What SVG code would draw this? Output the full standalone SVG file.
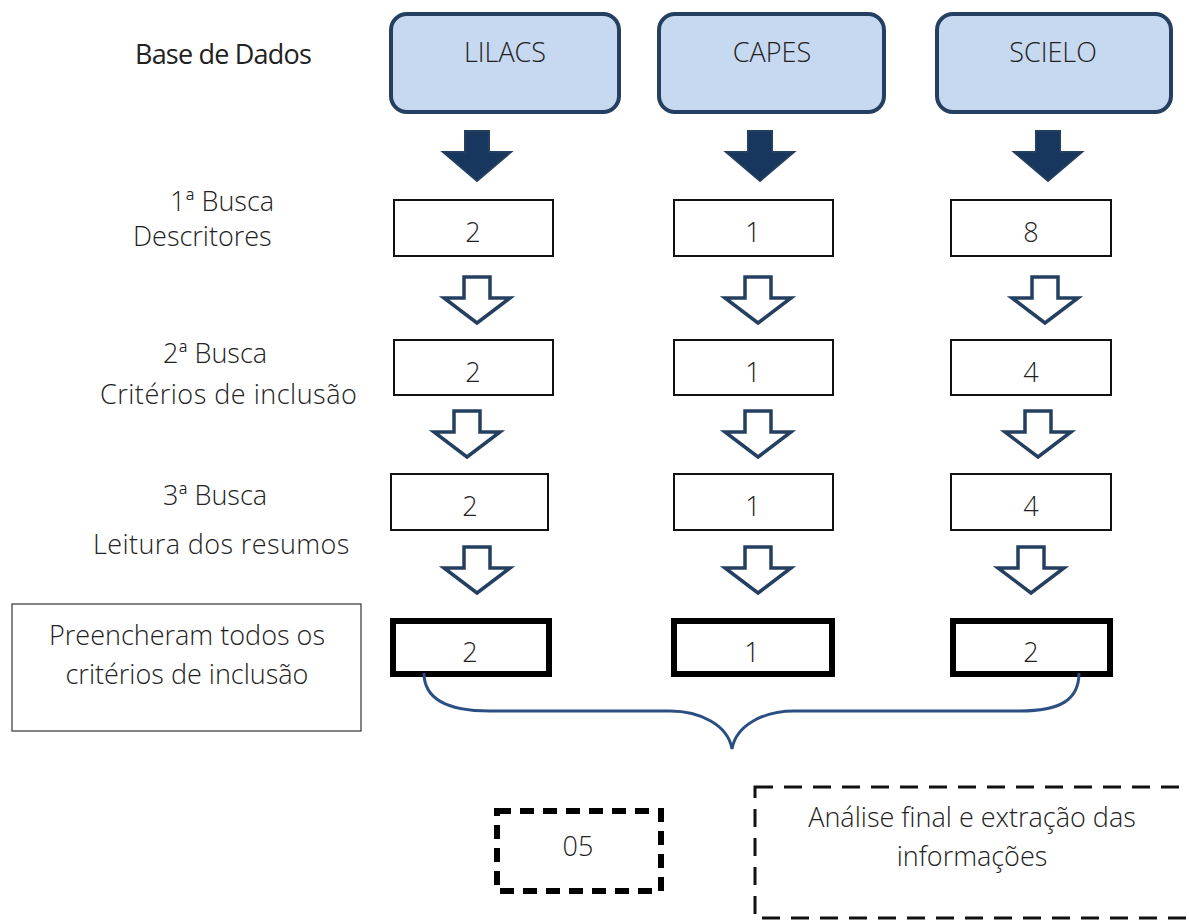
<svg xmlns="http://www.w3.org/2000/svg" xmlns:xlink="http://www.w3.org/1999/xlink" width="1189" height="922" viewBox="0 0 1189 922">
<style>
text{font-family:"Open Sans","Liberation Sans",sans-serif;font-weight:300;fill:#222;}
.lbl{font-size:27px;}
.num{font-size:27px;text-anchor:middle;}
.db{fill:#C6D9F1;stroke:#243F60;stroke-width:4;}
.box{fill:#fff;stroke:#111;stroke-width:2;}
.tbox{fill:#fff;stroke:#000;stroke-width:6;}
.oa{fill:#fff;stroke:#243F60;stroke-width:3.5;stroke-linejoin:miter;}
.fa{fill:#17375E;stroke:#243F60;stroke-width:2;}
</style>
<defs>
<path id="fa" d="M-12,0 H12 V21 H34 L0,50 L-34,21 H-12 Z"/>
<path id="oa" d="M-13,0 H13 V21 H33 L0,46 L-33,21 H-13 Z"/>
</defs>
<g id="labels">
<text class="lbl" x="135" y="64" style="font-weight:400;letter-spacing:-0.8px">Base de Dados</text>
<text class="lbl" x="170" y="211">1ª Busca</text>
<text class="lbl" x="133" y="246">Descritores</text>
<text class="lbl" x="163" y="363">2ª Busca</text>
<text class="lbl" x="100" y="404" style="letter-spacing:0.5px">Critérios de inclusão</text>
<text class="lbl" x="163" y="505">3ª Busca</text>
<text class="lbl" x="93" y="554" style="letter-spacing:0.4px">Leitura dos resumos</text>
</g>
<g id="lilacs"><rect class="db" x="391" y="14" width="228" height="98" rx="16"/><text class="num" x="505" y="62">LILACS</text></g>
<g id="capes"><rect class="db" x="659" y="14" width="225" height="98" rx="16"/><text class="num" x="772" y="62">CAPES</text></g>
<g id="scielo"><rect class="db" x="937" y="14" width="234" height="98" rx="16"/><text class="num" x="1053" y="62">SCIELO</text></g>

<g id="l1"><rect class="box" x="394" y="200" width="159" height="56"/><text class="num" x="473" y="242">2</text></g>
<g id="c1"><rect class="box" x="674" y="200" width="159" height="56"/><text class="num" x="753" y="242">1</text></g>
<g id="s1"><rect class="box" x="951" y="200" width="160" height="56"/><text class="num" x="1031" y="242">8</text></g>

<g id="l2"><rect class="box" x="394" y="340" width="159" height="55"/><text class="num" x="473" y="382">2</text></g>
<g id="c2"><rect class="box" x="674" y="340" width="159" height="55"/><text class="num" x="753" y="382">1</text></g>
<g id="s2"><rect class="box" x="951" y="340" width="160" height="55"/><text class="num" x="1031" y="382">4</text></g>

<g id="l3"><rect class="box" x="391" y="474" width="157" height="56"/><text class="num" x="470" y="516">2</text></g>
<g id="c3"><rect class="box" x="674" y="474" width="159" height="56"/><text class="num" x="753" y="516">1</text></g>
<g id="s3"><rect class="box" x="951" y="474" width="160" height="56"/><text class="num" x="1031" y="516">4</text></g>

<g id="l4"><rect class="tbox" x="393" y="621" width="156" height="53"/><text class="num" x="470" y="662">2</text></g>
<g id="c4"><rect class="tbox" x="674" y="621" width="158" height="53"/><text class="num" x="752" y="662">1</text></g>
<g id="s4"><rect class="tbox" x="953" y="621" width="157" height="53"/><text class="num" x="1031" y="662">2</text></g>

<g id="criteria"><rect x="12" y="604" width="349" height="127" fill="#fff" stroke="#333" stroke-width="1.2"/>
<text class="num" x="187" y="645">Preencheram todos os</text><text class="num" x="187" y="684">critérios de inclusão</text></g>

<g id="total"><rect x="497" y="811" width="164" height="80" fill="#fff" stroke="#000" stroke-width="6" stroke-dasharray="14,9"/><text class="num" x="578" y="856">05</text></g>

<g id="final"><rect x="755" y="787" width="440" height="131" fill="#fff" stroke="#111" stroke-width="3" stroke-dasharray="18,11"/>
<text class="num" x="972" y="827">Análise final e extração das</text><text class="num" x="972" y="866">informações</text></g>

<g id="connectors">
<use xlink:href="#fa" class="fa" x="477" y="131"/>
<use xlink:href="#fa" class="fa" x="760" y="131"/>
<use xlink:href="#fa" class="fa" x="1048" y="131"/>
<use xlink:href="#oa" class="oa" x="477" y="277"/>
<use xlink:href="#oa" class="oa" x="758" y="277"/>
<use xlink:href="#oa" class="oa" x="1045" y="277"/>
<use xlink:href="#oa" class="oa" x="467" y="411"/>
<use xlink:href="#oa" class="oa" x="758" y="411"/>
<use xlink:href="#oa" class="oa" x="1038" y="411"/>
<use xlink:href="#oa" class="oa" x="477" y="547"/>
<use xlink:href="#oa" class="oa" x="758" y="547"/>
<use xlink:href="#oa" class="oa" x="1031" y="547"/>
<path d="M424,673 C424,700 450,711 490,711 H670 C700,711 728,725 732,749 C736,725 764,711 794,711 H1020 C1060,711 1079,700 1079,673" fill="none" stroke="#2B4F83" stroke-width="3"/>
</g>
</svg>
